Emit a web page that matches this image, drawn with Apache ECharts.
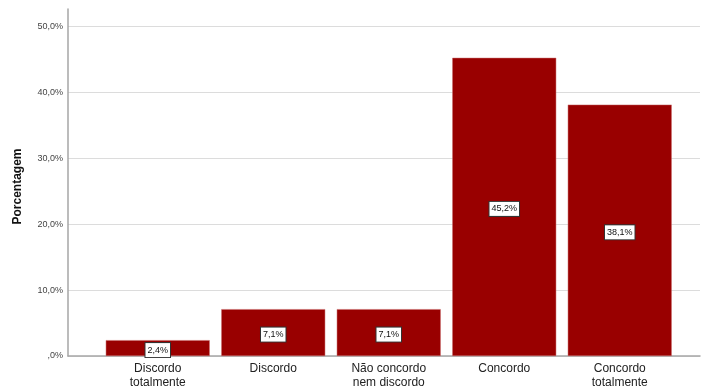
<!DOCTYPE html>
<html><head><meta charset="utf-8">
<script src="https://cdn.jsdelivr.net/npm/echarts@6/dist/echarts.min.js"></script>
<style>html,body{margin:0;padding:0;background:#fff}#c{width:701px;height:390px}</style>
</head><body><div id="c"></div>
<script>
const categories = ['Discordo\ntotalmente', 'Discordo', 'Não concordo\nnem discordo', 'Concordo', 'Concordo\ntotalmente'];
const values = [2.4, 7.1, 7.1, 45.2, 38.1];
const yTicks = [0, 10, 20, 30, 40, 50];
const yName = 'Porcentagem';

const fmtPct = v => (v === 0 ? ',0%' : v.toFixed(1).replace('.', ',') + '%');
const yMax = 52.6;
const chart = echarts.init(document.getElementById('c'), null, {renderer: 'canvas'});
chart.setOption({
  animation: false,
  textStyle: {fontFamily: 'Liberation Sans, Arial, sans-serif'},
  grid: [
    {left: 68, right: 1, top: 9, bottom: 34},
    {left: 100, right: 23.5, top: 9, bottom: 34}
  ],
  xAxis: [
    {gridIndex: 0, type: 'value', min: 0, max: 1, axisLine: {show: true, onZero: false, lineStyle: {color: '#a6a6a6', width: 1.5}},
     axisTick: {show: false}, axisLabel: {show: false}, splitLine: {show: false}},
    {gridIndex: 1, type: 'category', data: categories, axisLine: {show: false}, axisTick: {show: false},
     axisLabel: {color: '#222', fontSize: 12, margin: 6, lineHeight: 14, interval: 0}}
  ],
  yAxis: [
    {gridIndex: 0, type: 'value', min: 0, max: yMax, interval: 10,
     name: yName, nameLocation: 'middle', nameGap: 44,
     nameTextStyle: {color: '#111', fontSize: 12, fontWeight: 'bold', padding: [0, 8, 0, 0]},
     axisLine: {show: true, lineStyle: {color: '#a6a6a6', width: 1.5}},
     axisTick: {show: false},
     axisLabel: {color: '#444', fontSize: 9, margin: 5, padding: [5, 0, 0, 0],
       formatter: v => (yTicks.indexOf(Math.round(v * 10) / 10) >= 0 ? fmtPct(v) : '')},
     splitLine: {show: true, lineStyle: {color: ['#dcdcdc', '#dcdcdc', '#dcdcdc', '#dcdcdc', '#dcdcdc', '#dcdcdc', 'rgba(0,0,0,0)'], width: 1}}},
    {gridIndex: 1, type: 'value', min: 0, max: yMax, interval: 10, show: false, splitLine: {show: false}}
  ],
  series: [{
    type: 'bar', xAxisIndex: 1, yAxisIndex: 1, data: values, barCategoryGap: '10%',
    itemStyle: {color: '#990000', borderColor: '#c86a6a', borderWidth: 0.5},
    label: {show: true, position: 'inside', offset: [0, 2], formatter: p => fmtPct(p.value),
      color: '#111', fontSize: 9, backgroundColor: '#fff', borderColor: '#333', borderWidth: 1, padding: [3, 2, 2, 2]}
  }]
});
</script></body></html>
